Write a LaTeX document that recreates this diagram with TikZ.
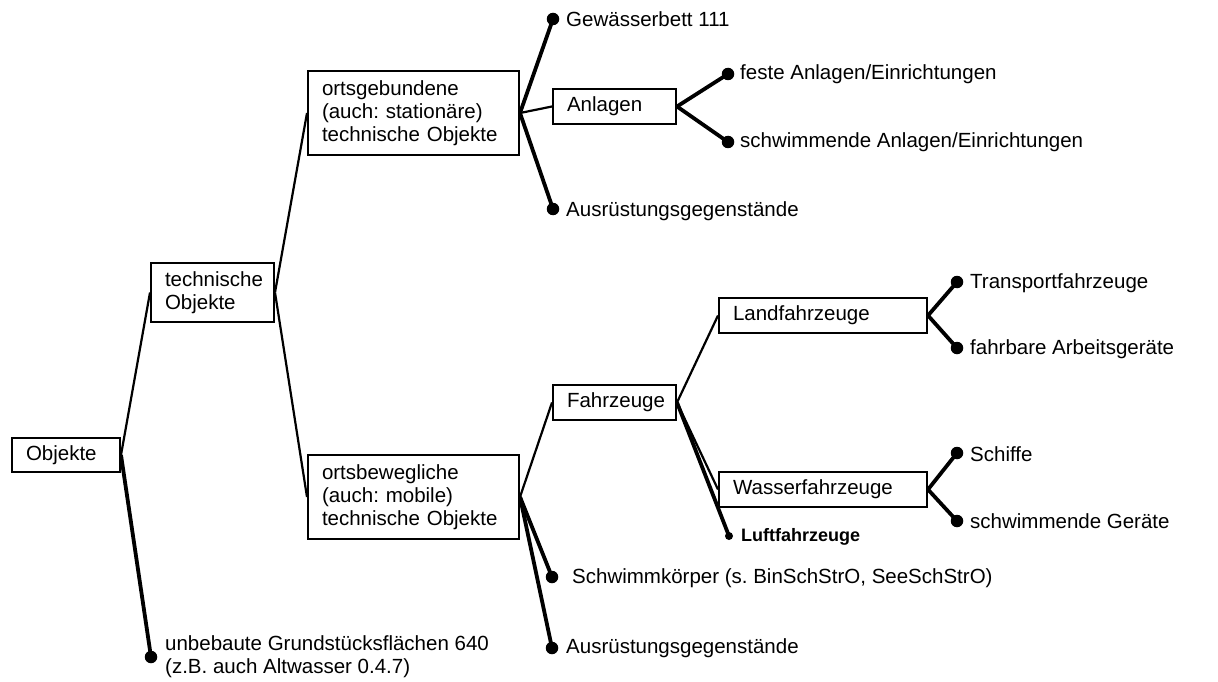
\documentclass[tikz,border=0pt]{standalone}
\usepackage{fontspec}
\setmainfont{Liberation Sans}
\frenchspacing
\begin{document}
\begin{tikzpicture}[x=1pt,y=-1pt,
  box/.style={draw,line width=2pt,rectangle,inner xsep=14pt,inner ysep=0pt,align=left,
    font=\fontsize{20.5}{23}\selectfont},
  dot/.style={circle,fill=black,inner sep=0pt,minimum size=12.5pt},
  sdot/.style={circle,fill=black,inner sep=0pt,minimum size=8pt},
  lbl/.style={anchor=west,inner sep=0pt,align=left,font=\fontsize{20.5}{23}\selectfont},
  thin/.style={line width=2.2pt},
  thick/.style={line width=3.8pt}]
\useasboundingbox (0,0) rectangle (1218,682);
% boxes
\node[box,minimum width=108pt,minimum height=34pt,text width=80pt] (obj) at (66,455) {Objekte};
\node[box,minimum width=123pt,minimum height=59pt,text width=95pt] (tech) at (212.5,292.5) {technische\\Objekte};
\node[box,minimum width=211pt,minimum height=84pt,text width=183pt] (ortsg) at (413.5,113) {ortsgebundene\\(auch: station\"are)\\technische Objekte};
\node[box,minimum width=123pt,minimum height=35pt,text width=95pt] (anl) at (614.5,106.5) {Anlagen};
\node[box,minimum width=211pt,minimum height=84pt,text width=183pt] (ortsb) at (413.5,497) {ortsbewegliche\\(auch: mobile)\\technische Objekte};
\node[box,minimum width=123pt,minimum height=35pt,text width=95pt] (fahr) at (614.5,402.5) {Fahrzeuge};
\node[box,minimum width=208pt,minimum height=35pt,text width=180pt] (land) at (823,315.5) {Landfahrzeuge};
\node[box,minimum width=208pt,minimum height=35pt,text width=180pt] (wass) at (823,489.5) {Wasserfahrzeuge};
% dots
\node[dot] (g1) at (553,19) {};
\node[dot] (fa) at (728,74) {};
\node[dot] (sa) at (728,142) {};
\node[dot] (au1) at (553,209) {};
\node[dot] (tr) at (957,282) {};
\node[dot] (fb) at (957,348) {};
\node[dot] (sc) at (957,453) {};
\node[dot] (sg) at (957,521) {};
\node[sdot] (lu) at (729,536) {};
\node[dot] (sk) at (552,577) {};
\node[dot] (au2) at (552,648) {};
\node[dot] (ub) at (151,657) {};
% labels
\node[lbl] (tg1) at (566,19) {Gew\"asserbett 111};
\node[lbl] (tfa) at (740,74) {feste Anlagen/Einrichtungen};
\node[lbl] (tsa) at (740,142) {schwimmende Anlagen/Einrichtungen};
\node[lbl] (tau1) at (566,211) {Ausr\"ustungsgegenst\"ande};
\node[lbl] (ttr) at (970,283) {Transportfahrzeuge};
\node[lbl] (tfb) at (970,349) {fahrbare Arbeitsger\"ate};
\node[lbl] (tsc) at (970,454) {Schiffe};
\node[lbl] (tsg) at (970,521) {schwimmende Ger\"ate};
\node[lbl,font=\fontsize{18}{21}\selectfont\bfseries] (tlu) at (741,537) {Luftfahrzeuge};
\node[lbl] (tsk) at (572,578) {Schwimmk\"orper (s. BinSchStrO, SeeSchStrO)};
\node[lbl] (tau2) at (566,648) {Ausr\"ustungsgegenst\"ande};
\node[lbl] (tub) at (165,657) {unbebaute Grundst\"ucksfl\"achen 640\\(z.B. auch Altwasser 0.4.7)};
% connectors
\draw[thin] (obj.east) -- (tech.west);
\draw[thick] (obj.east) -- (ub.center);
\draw[thin] (tech.east) -- (ortsg.west);
\draw[thin] (tech.east) -- (ortsb.west);
\draw[thick] (ortsg.east) -- (g1.center);
\draw[thin] (ortsg.east) -- (anl.west);
\draw[thick] (ortsg.east) -- (au1.center);
\draw[thick] (anl.east) -- (fa.center);
\draw[thick] (anl.east) -- (sa.center);
\draw[thin] (ortsb.east) -- (fahr.west);
\draw[thick] (ortsb.east) -- (sk.center);
\draw[thick] (ortsb.east) -- (au2.center);
\draw[thin] (fahr.east) -- (land.west);
\draw[thin] (fahr.east) -- (wass.west);
\draw[thick] (fahr.east) -- (lu.center);
\draw[thick] (land.east) -- (tr.center);
\draw[thick] (land.east) -- (fb.center);
\draw[thick] (wass.east) -- (sc.center);
\draw[thick] (wass.east) -- (sg.center);
\end{tikzpicture}
\end{document}
